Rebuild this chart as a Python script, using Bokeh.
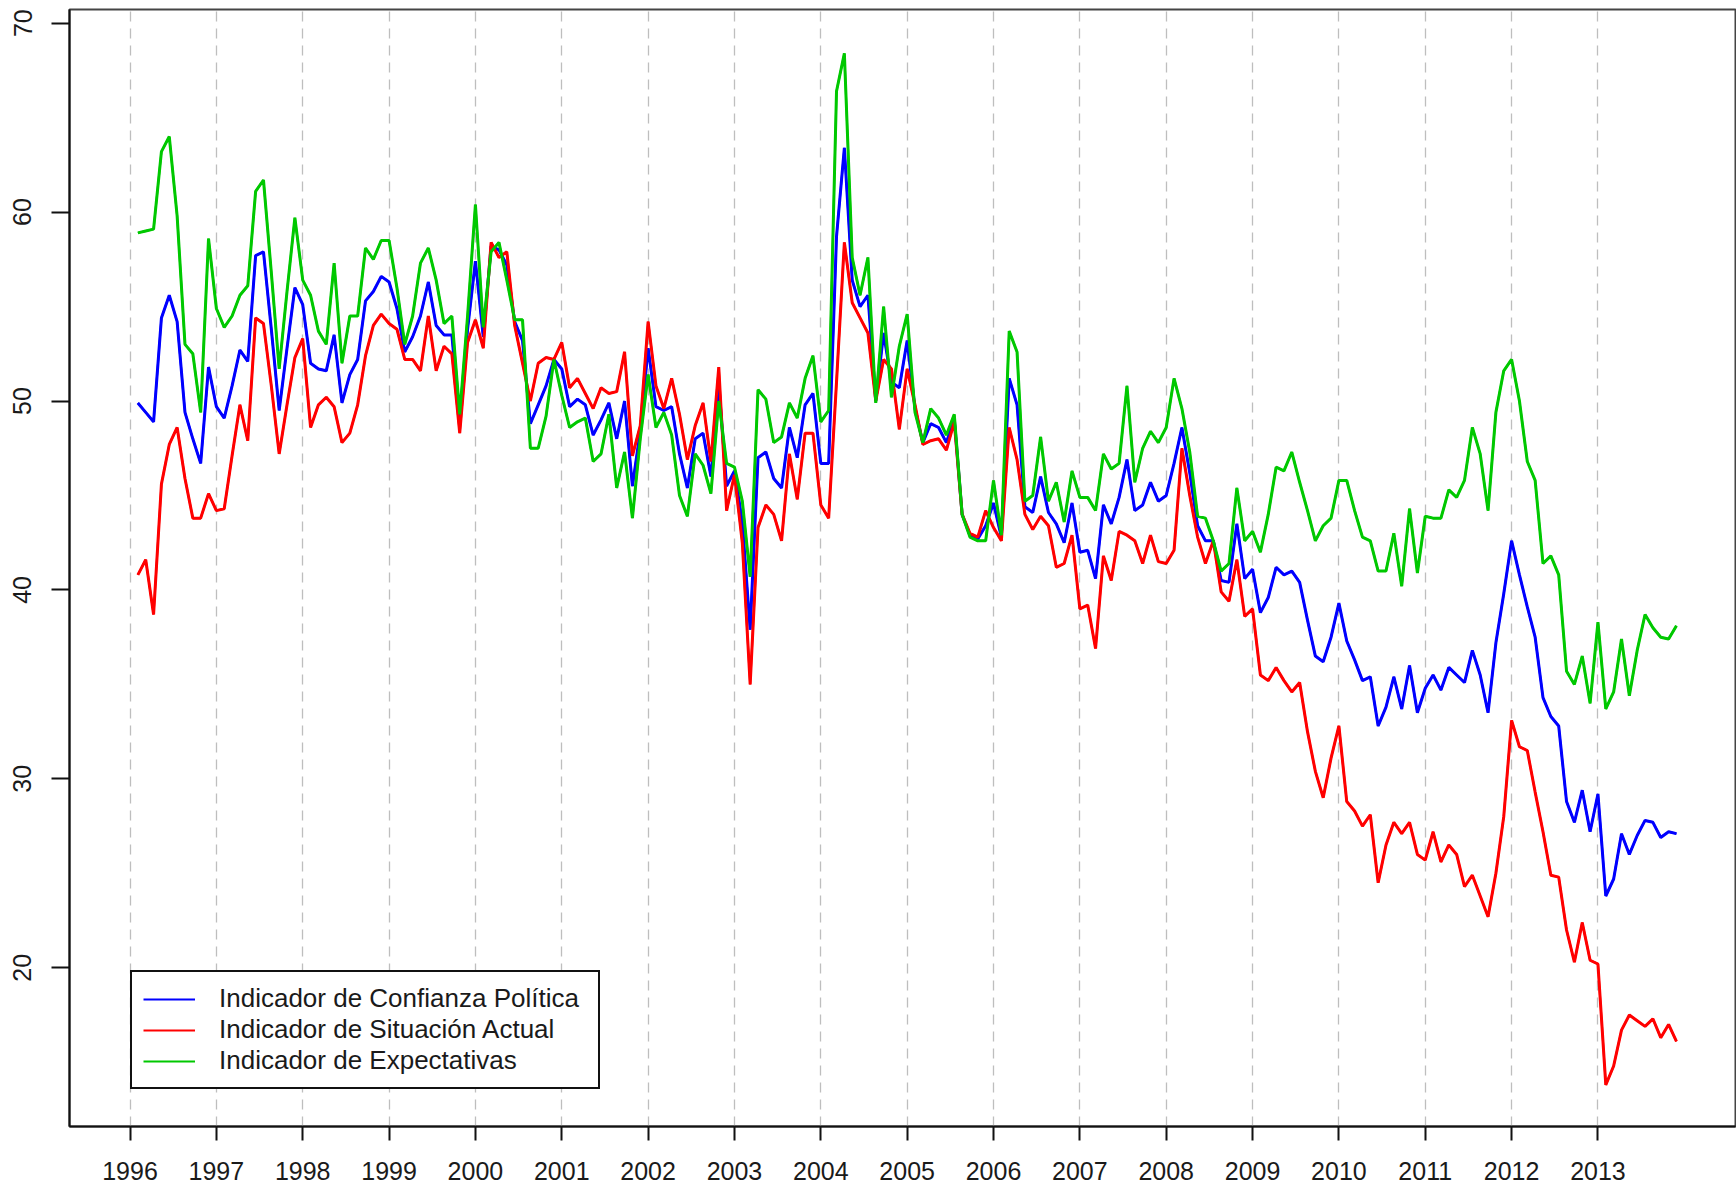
from bokeh.plotting import figure
from bokeh.models import Range1d, FixedTicker, Legend, LegendItem, ColumnDataSource
from bokeh.embed import file_html
from bokeh.resources import INLINE

# ---- data: 11 barometers per year (no August), series starts 2nd period of 1996 ----
START_YEAR = 1996
FREQ = 11
FIRST_PERIOD = 2

years = list(range(1996, 2014))
y_ticks = [20, 30, 40, 50, 60, 70]

confianza = [
    49.9, 49.4, 48.9, 54.4, 55.6, 54.2, 49.4, 48.0, 46.7, 51.8,
    49.7, 49.1, 50.8, 52.7, 52.1, 57.7, 57.9, 53.8, 49.5, 52.8, 56.0,
    55.1, 52.0, 51.7, 51.6, 53.5, 49.9, 51.4, 52.2, 55.3, 55.8, 56.6,
    56.3, 54.9, 52.6, 53.4, 54.5, 56.3, 54.0, 53.5, 53.5, 48.8, 53.8,
    57.4, 53.4, 58.2, 58.0, 57.2, 54.2, 53.2, 48.8, 49.8, 50.8, 52.2,
    51.7, 49.7, 50.1, 49.8, 48.2, 49.0, 49.9, 48.0, 50.0, 45.5, 48.4,
    52.8, 49.7, 49.5, 49.7, 47.2, 45.4, 48.0, 48.3, 46.0, 50.9, 45.5,
    46.3, 43.6, 37.9, 47.0, 47.3, 45.9, 45.4, 48.6, 47.0, 49.8, 50.4,
    46.7, 46.7, 58.7, 63.4, 56.4, 55.0, 55.6, 50.0, 53.6, 51.0, 50.7,
    53.2, 49.6, 47.8, 48.8, 48.6, 47.8, 49.1, 44.0, 42.9, 42.7, 43.4,
    44.6, 42.8, 51.2, 49.8, 44.4, 44.1, 46.0, 44.1, 43.5, 42.5, 44.6,
    42.0, 42.1, 40.6, 44.5, 43.5, 44.9, 46.9, 44.2, 44.5, 45.7, 44.7,
    45.0, 46.7, 48.6, 46.2, 43.4, 42.6, 42.6, 40.5, 40.4, 43.5, 40.6,
    41.1, 38.8, 39.6, 41.2, 40.8, 41.0, 40.4, 38.4, 36.5, 36.2, 37.5,
    39.3, 37.3, 36.3, 35.2, 35.4, 32.8, 33.8, 35.4, 33.7, 36.0, 33.5,
    34.8, 35.5, 34.7, 35.9, 35.5, 35.1, 36.8, 35.5, 33.5, 37.2, 39.8,
    42.6, 40.8, 39.1, 37.5, 34.3, 33.3, 32.8, 28.8, 27.7, 29.4, 27.2,
    29.2, 23.8, 24.7, 27.1, 26.0, 27.0, 27.8, 27.7, 26.9, 27.2, 27.1,
]

situacion = [
    40.8, 41.6, 38.7, 45.6, 47.7, 48.6, 45.9, 43.8, 43.8, 45.1,
    44.2, 44.3, 47.1, 49.8, 47.9, 54.4, 54.1, 50.8, 47.2, 49.8, 52.3,
    53.3, 48.6, 49.8, 50.2, 49.7, 47.8, 48.3, 49.8, 52.4, 54.0, 54.6,
    54.1, 53.8, 52.2, 52.2, 51.6, 54.5, 51.6, 52.9, 52.5, 48.3, 53.1,
    54.3, 52.8, 58.4, 57.6, 57.9, 54.0, 52.0, 50.0, 52.0, 52.3, 52.2,
    53.1, 50.7, 51.2, 50.4, 49.6, 50.7, 50.4, 50.5, 52.6, 47.1, 48.7,
    54.2, 50.8, 49.6, 51.2, 49.3, 46.9, 48.7, 49.9, 46.8, 51.8, 44.2,
    46.1, 42.5, 35.0, 43.3, 44.5, 44.0, 42.6, 47.2, 44.8, 48.3, 48.3,
    44.5, 43.8, 51.0, 58.4, 55.2, 54.4, 53.6, 50.0, 52.2, 51.7, 48.5,
    51.7, 49.8, 47.7, 47.9, 48.0, 47.4, 48.9, 44.0, 43.0, 42.8, 44.2,
    43.3, 42.6, 48.6, 46.9, 44.0, 43.2, 43.9, 43.4, 41.2, 41.4, 42.9,
    39.0, 39.2, 36.9, 41.8, 40.5, 43.1, 42.9, 42.6, 41.4, 42.9, 41.5,
    41.4, 42.1, 47.5, 45.0, 42.8, 41.4, 42.6, 39.9, 39.4, 41.6, 38.6,
    39.0, 35.5, 35.2, 35.9, 35.2, 34.6, 35.1, 32.5, 30.4, 29.0, 31.1,
    32.8, 28.8, 28.3, 27.5, 28.1, 24.5, 26.5, 27.7, 27.1, 27.7, 26.0,
    25.7, 27.2, 25.6, 26.5, 26.0, 24.3, 24.9, 23.8, 22.7, 25.0, 28.0,
    33.1, 31.7, 31.5, 29.3, 27.2, 24.9, 24.8, 22.0, 20.3, 22.4, 20.4,
    20.2, 13.8, 14.8, 16.7, 17.5, 17.2, 16.9, 17.3, 16.3, 17.0, 16.1,
]

expectativas = [
    58.9, 59.0, 59.1, 63.2, 64.0, 59.8, 53.0, 52.5, 49.4, 58.6,
    54.9, 53.9, 54.5, 55.6, 56.1, 61.1, 61.7, 56.8, 51.7, 55.8, 59.7,
    56.4, 55.6, 53.7, 53.0, 57.3, 52.0, 54.5, 54.5, 58.1, 57.5, 58.5,
    58.5, 56.0, 53.0, 54.5, 57.3, 58.1, 56.4, 54.1, 54.5, 49.3, 54.5,
    60.4, 53.9, 57.9, 58.4, 56.4, 54.3, 54.3, 47.5, 47.5, 49.2, 52.2,
    50.3, 48.6, 48.9, 49.1, 46.8, 47.2, 49.3, 45.4, 47.3, 43.8, 48.0,
    51.4, 48.6, 49.4, 48.2, 45.0, 43.9, 47.2, 46.6, 45.1, 50.0, 46.7,
    46.5, 44.7, 40.7, 50.6, 50.1, 47.8, 48.1, 49.9, 49.1, 51.2, 52.4,
    48.9, 49.5, 66.4, 68.4, 57.6, 55.6, 57.6, 49.9, 55.0, 50.2, 52.9,
    54.6, 49.4, 47.8, 49.6, 49.1, 48.2, 49.3, 44.0, 42.8, 42.6, 42.6,
    45.8, 42.9, 53.7, 52.6, 44.7, 45.0, 48.1, 44.7, 45.7, 43.6, 46.3,
    44.9, 44.9, 44.2, 47.2, 46.4, 46.7, 50.8, 45.7, 47.5, 48.4, 47.8,
    48.6, 51.2, 49.6, 47.3, 43.9, 43.8, 42.6, 41.0, 41.4, 45.4, 42.6,
    43.1, 42.0, 44.0, 46.5, 46.3, 47.3, 45.7, 44.2, 42.6, 43.4, 43.8,
    45.8, 45.8, 44.2, 42.8, 42.6, 41.0, 41.0, 43.0, 40.2, 44.3, 40.9,
    43.9, 43.8, 43.8, 45.3, 44.9, 45.8, 48.6, 47.2, 44.2, 49.4, 51.6,
    52.2, 50.0, 46.8, 45.8, 41.4, 41.8, 40.8, 35.7, 35.0, 36.5, 34.0,
    38.3, 33.7, 34.6, 37.4, 34.4, 36.8, 38.7, 38.0, 37.5, 37.4, 38.1,
]

labels = [
    "Indicador de Confianza Política",
    "Indicador de Situación Actual",
    "Indicador de Expectativas",
]
colors = ["#0000FF", "#FF0000", "#00C800"]
fields = ["conf", "sit", "exp"]

t = [START_YEAR + (FIRST_PERIOD - 1 + i) / FREQ for i in range(len(confianza))]
src = ColumnDataSource(dict(t=t, conf=confianza, sit=situacion, exp=expectativas))

FONT = "Liberation Sans"
TXT = "#1a1a1a"

p = figure(
    width=1736, height=1188,
    output_backend="svg", toolbar_location=None,
    x_range=Range1d(1995.299, 2014.593),
    y_range=Range1d(11.599, 70.725),
    min_border_left=69, min_border_right=1,
    min_border_top=9, min_border_bottom=62,
    background_fill_color="white", border_fill_color="white",
)
p.outline_line_color = "#444444"
p.outline_line_width = 2

# axes
for ax in (p.xaxis, p.yaxis):
    ax.axis_line_color = "#111111"
    ax.axis_line_width = 2
    ax.major_tick_line_color = "#111111"
    ax.major_tick_line_width = 2
    ax.major_tick_in = 0
    ax.minor_tick_line_color = None
    ax.major_label_text_font = FONT
    ax.major_label_text_font_size = "25px"
    ax.major_label_text_color = TXT

p.xaxis.ticker = FixedTicker(ticks=years)
p.xaxis.major_tick_out = 14
p.xaxis.major_label_standoff = 21

p.yaxis.ticker = FixedTicker(ticks=y_ticks)
p.yaxis.major_tick_out = 18
p.yaxis.major_label_standoff = 20
p.yaxis.major_label_orientation = "vertical"

# grid: dashed vertical lines at each year
p.ygrid.grid_line_color = None
p.xgrid.ticker = FixedTicker(ticks=years)
p.xgrid.grid_line_color = "#BEBEBE"
p.xgrid.grid_line_width = 1.3
p.xgrid.grid_line_dash = "10 7"

# thin copies (used for the legend samples), covered by the thick series lines
thin = [p.line("t", f, source=src, line_color=c, line_width=2) for f, c in zip(fields, colors)]
for f, c in zip(fields, colors):
    p.line("t", f, source=src, line_color=c, line_width=3)

items = [LegendItem(label=lab, renderers=[r]) for lab, r in zip(labels, thin)]
legend = Legend(
    items=items, location=(61, 37),
    border_line_color="#111111", border_line_width=2, border_line_alpha=1.0,
    background_fill_color="white", background_fill_alpha=1.0,
    padding=11, spacing=0, margin=0,
    label_height=30, glyph_height=30, glyph_width=52,
    label_standoff=24, label_width=368,
    label_text_font=FONT, label_text_font_size="26px",
    label_text_line_height=1.0,
    label_text_color=TXT,
)
p.add_layout(legend)

open("out.html", "w").write(file_html(p, INLINE))
